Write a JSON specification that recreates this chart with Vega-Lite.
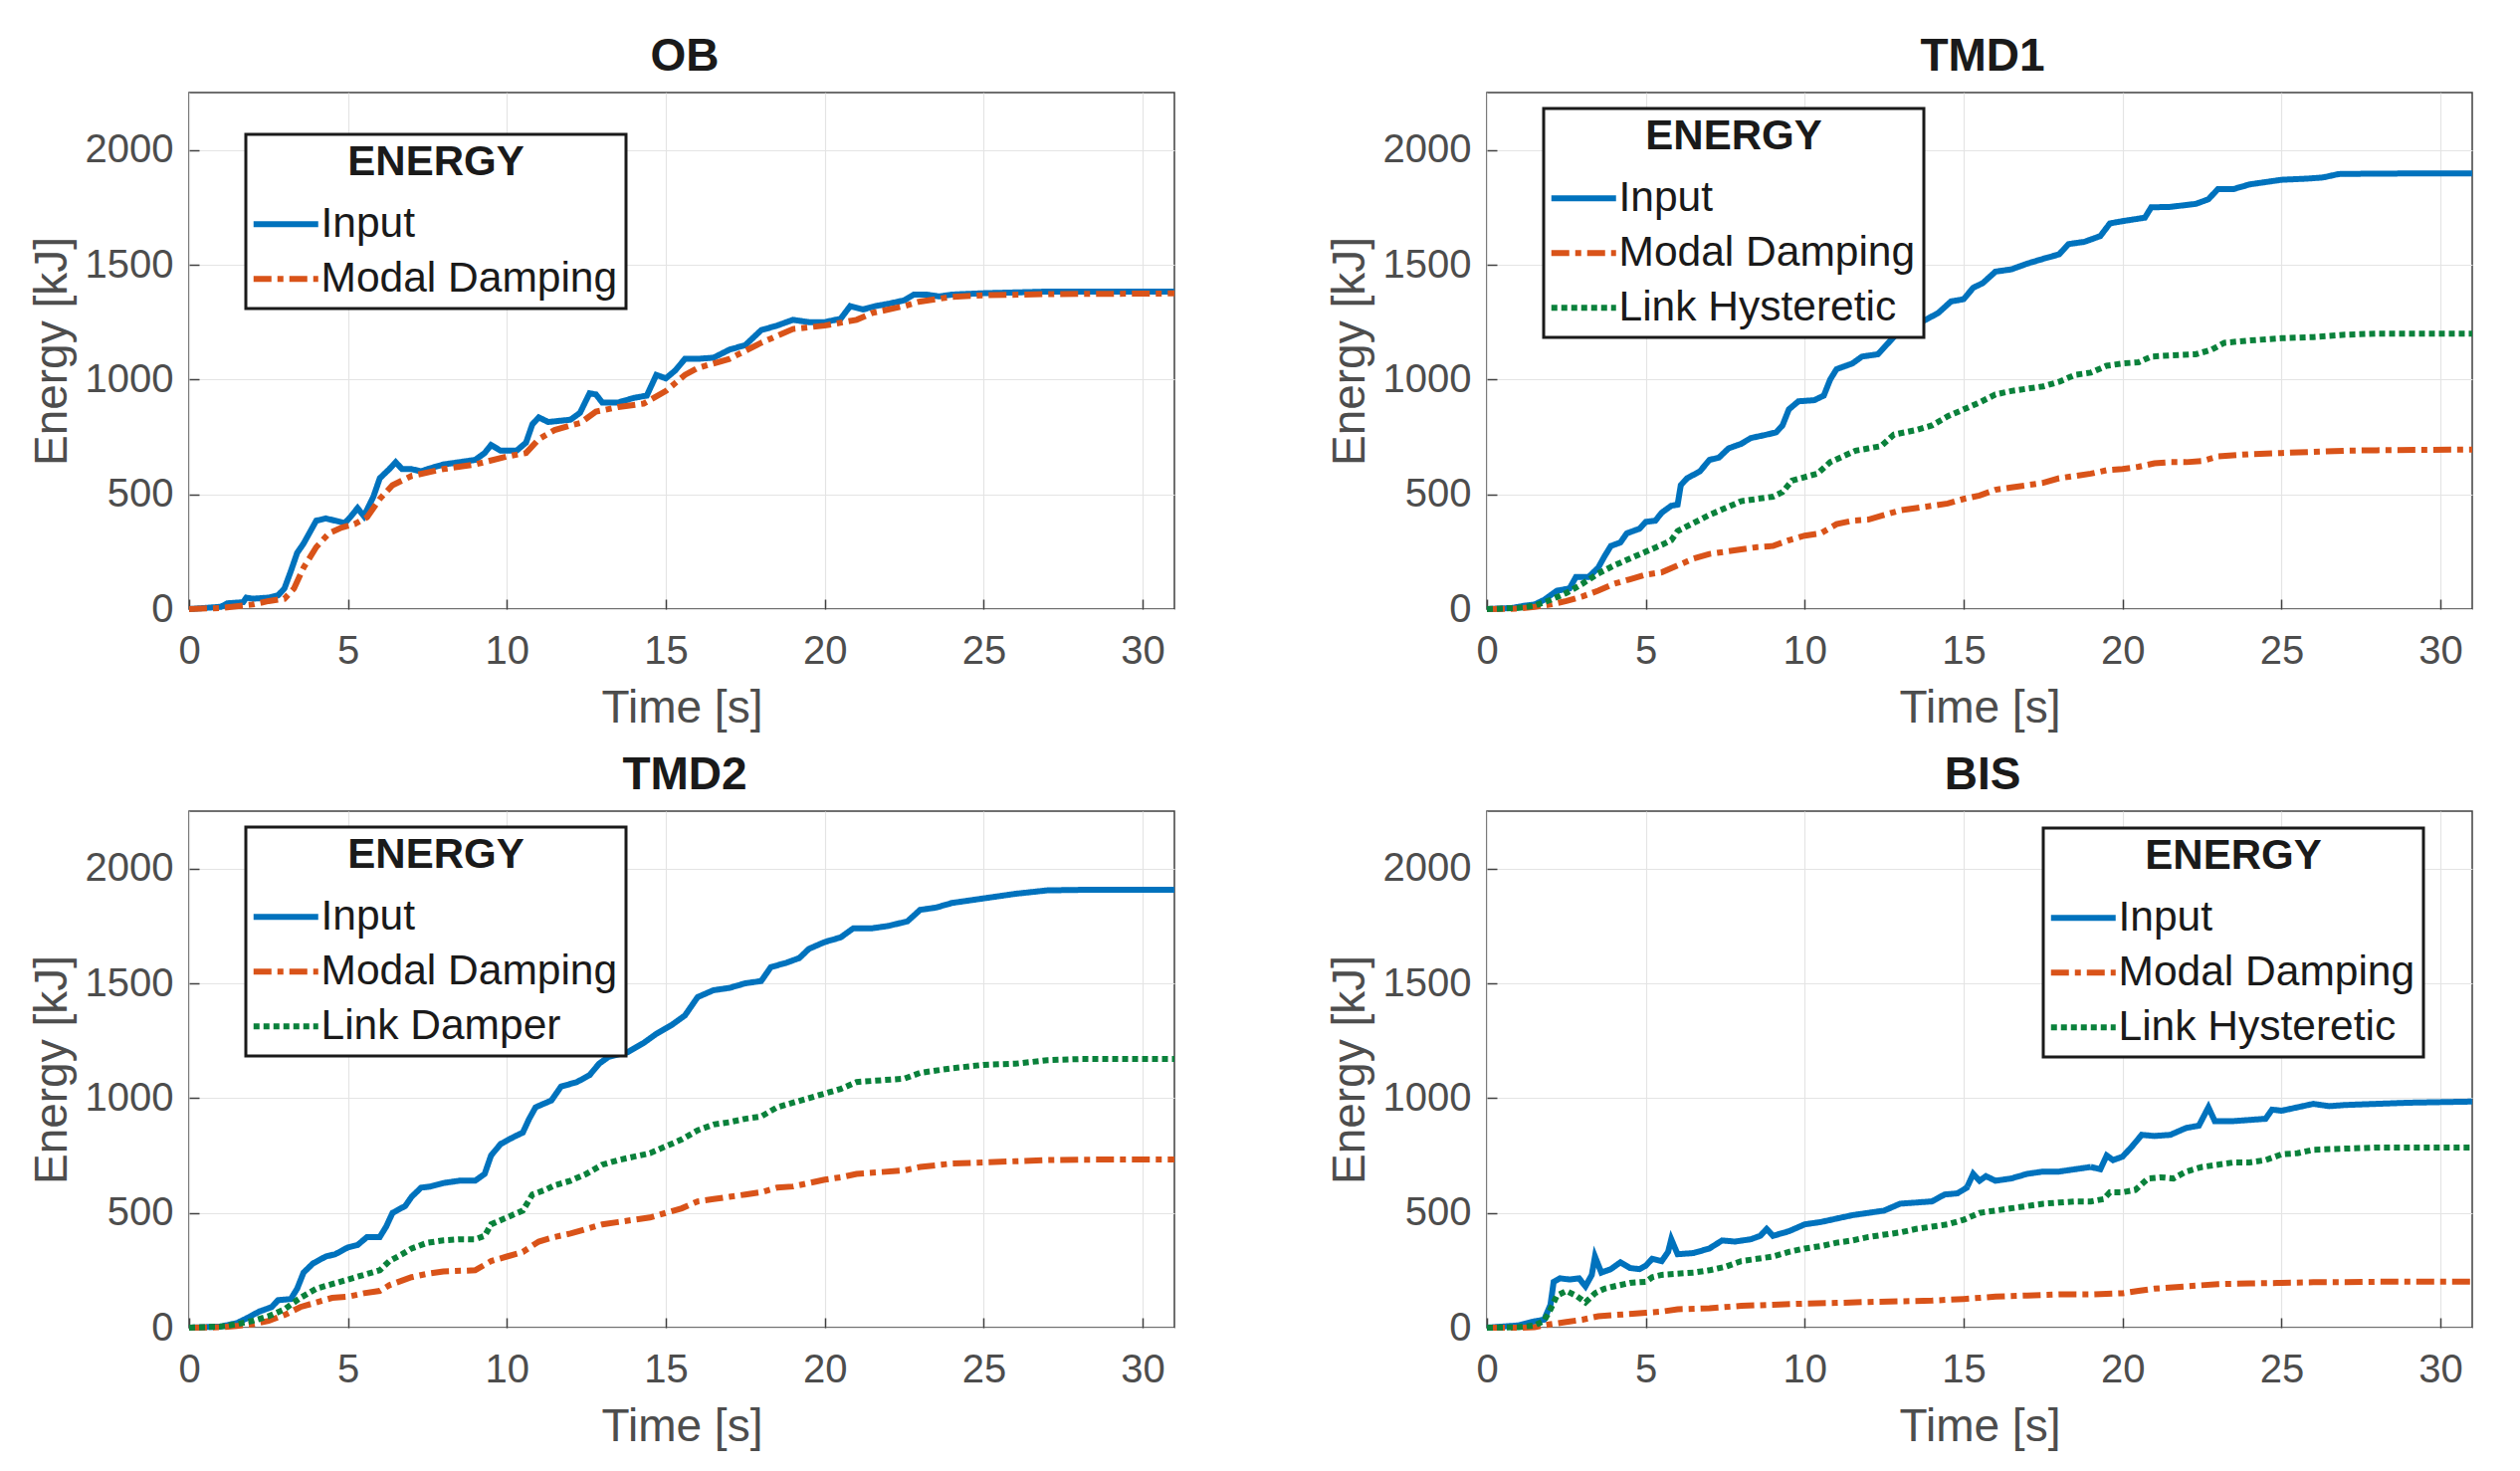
{
"$schema": "https://vega.github.io/schema/vega-lite/v6.json",
"background": "white",
"padding": {"left": 28, "top": 33, "right": 5, "bottom": 5},
"config": {
 "font": "Liberation Sans",
 "view": {"stroke": "#404040", "strokeWidth": 1.5},
 "axis": {"labelFontSize": 40, "labelColor": "#4d4d4d", "titleFontSize": 46, "titleColor": "#4d4d4d", "titleFontWeight": "normal", "gridColor": "#e4e4e4", "gridWidth": 1.2, "domain": false, "tickColor": "#404040", "tickSize": -10, "tickWidth": 1.5, "labelFlush": false, "labelOverlap": false, "format": "d"},
 "axisX": {"labelPadding": 32, "titlePadding": 15},
 "axisY": {"labelPadding": 26, "titlePadding": 9},
 "title": {"fontSize": 46, "fontWeight": "bold", "color": "#1a1a1a", "offset": 12, "baseline": "alphabetic", "frame": "group", "anchor": "middle", "dx": 3},
 "legend": {"strokeColor": "#1a1a1a", "strokeWidth": 3, "padding": 8, "fillColor": "white", "titleAnchor": "middle", "titleFontSize": 42, "titleFontWeight": "bold", "titleColor": "#1a1a1a", "titlePadding": 19, "labelFontSize": 42.5, "labelColor": "#1a1a1a", "labelOffset": 14, "labelLimit": 0, "symbolType": "M-2,0H2", "symbolSize": 1056, "symbolOffset": 11, "symbolStrokeWidth": 6, "rowPadding": 12}
},
"datasets": {
 "ob": [
  {"s":"Input","t":0,"e":0},{"s":"Input","t":1,"e":10},{"s":"Input","t":1.2,"e":25},{"s":"Input","t":1.7,"e":30},{"s":"Input","t":1.8,"e":50},{"s":"Input","t":2.0,"e":45},{"s":"Input","t":2.5,"e":50},{"s":"Input","t":2.8,"e":60},{"s":"Input","t":3.0,"e":90},{"s":"Input","t":3.2,"e":165},{"s":"Input","t":3.4,"e":245},{"s":"Input","t":3.6,"e":285},{"s":"Input","t":3.8,"e":335},{"s":"Input","t":4.0,"e":385},{"s":"Input","t":4.3,"e":395},{"s":"Input","t":4.6,"e":385},{"s":"Input","t":4.9,"e":375},{"s":"Input","t":5.1,"e":405},{"s":"Input","t":5.3,"e":440},{"s":"Input","t":5.5,"e":405},{"s":"Input","t":5.8,"e":490},{"s":"Input","t":6.0,"e":570},{"s":"Input","t":6.3,"e":610},{"s":"Input","t":6.5,"e":640},{"s":"Input","t":6.7,"e":610},{"s":"Input","t":7.0,"e":610},{"s":"Input","t":7.3,"e":600},{"s":"Input","t":7.5,"e":610},{"s":"Input","t":8.0,"e":630},{"s":"Input","t":8.5,"e":640},{"s":"Input","t":9.0,"e":650},{"s":"Input","t":9.3,"e":680},{"s":"Input","t":9.5,"e":715},{"s":"Input","t":9.8,"e":690},{"s":"Input","t":10.3,"e":690},{"s":"Input","t":10.6,"e":725},{"s":"Input","t":10.8,"e":805},{"s":"Input","t":11.0,"e":835},{"s":"Input","t":11.3,"e":815},{"s":"Input","t":12.0,"e":825},{"s":"Input","t":12.3,"e":855},{"s":"Input","t":12.6,"e":940},{"s":"Input","t":12.8,"e":935},{"s":"Input","t":13.0,"e":900},{"s":"Input","t":13.5,"e":900},{"s":"Input","t":14.0,"e":920},{"s":"Input","t":14.4,"e":930},{"s":"Input","t":14.7,"e":1020},{"s":"Input","t":15.0,"e":1005},{"s":"Input","t":15.3,"e":1040},{"s":"Input","t":15.6,"e":1090},{"s":"Input","t":16.0,"e":1090},{"s":"Input","t":16.5,"e":1095},{"s":"Input","t":17.0,"e":1130},{"s":"Input","t":17.5,"e":1150},{"s":"Input","t":18.0,"e":1215},{"s":"Input","t":18.5,"e":1235},{"s":"Input","t":19.0,"e":1260},{"s":"Input","t":19.5,"e":1250},{"s":"Input","t":20.0,"e":1250},{"s":"Input","t":20.5,"e":1265},{"s":"Input","t":20.8,"e":1320},{"s":"Input","t":21.2,"e":1305},{"s":"Input","t":21.6,"e":1320},{"s":"Input","t":22.0,"e":1330},{"s":"Input","t":22.5,"e":1345},{"s":"Input","t":22.8,"e":1370},{"s":"Input","t":23.2,"e":1370},{"s":"Input","t":23.6,"e":1362},{"s":"Input","t":24,"e":1370},{"s":"Input","t":25,"e":1376},{"s":"Input","t":27,"e":1383},{"s":"Input","t":31,"e":1383},
  {"s":"Modal Damping","t":0,"e":0},{"s":"Modal Damping","t":1,"e":5},{"s":"Modal Damping","t":2,"e":20},{"s":"Modal Damping","t":2.5,"e":35},{"s":"Modal Damping","t":3.0,"e":45},{"s":"Modal Damping","t":3.3,"e":90},{"s":"Modal Damping","t":3.6,"e":180},{"s":"Modal Damping","t":4.0,"e":270},{"s":"Modal Damping","t":4.4,"e":330},{"s":"Modal Damping","t":4.8,"e":355},{"s":"Modal Damping","t":5.2,"e":370},{"s":"Modal Damping","t":5.6,"e":400},{"s":"Modal Damping","t":6.0,"e":480},{"s":"Modal Damping","t":6.4,"e":540},{"s":"Modal Damping","t":7,"e":580},{"s":"Modal Damping","t":8,"e":610},{"s":"Modal Damping","t":9,"e":630},{"s":"Modal Damping","t":10,"e":665},{"s":"Modal Damping","t":10.6,"e":680},{"s":"Modal Damping","t":11,"e":740},{"s":"Modal Damping","t":11.5,"e":780},{"s":"Modal Damping","t":12,"e":800},{"s":"Modal Damping","t":12.3,"e":810},{"s":"Modal Damping","t":12.8,"e":860},{"s":"Modal Damping","t":13.5,"e":880},{"s":"Modal Damping","t":14.3,"e":895},{"s":"Modal Damping","t":15,"e":950},{"s":"Modal Damping","t":15.6,"e":1020},{"s":"Modal Damping","t":16,"e":1050},{"s":"Modal Damping","t":17,"e":1090},{"s":"Modal Damping","t":18,"e":1160},{"s":"Modal Damping","t":19,"e":1220},{"s":"Modal Damping","t":20,"e":1235},{"s":"Modal Damping","t":21,"e":1260},{"s":"Modal Damping","t":21.5,"e":1290},{"s":"Modal Damping","t":22.5,"e":1320},{"s":"Modal Damping","t":23,"e":1340},{"s":"Modal Damping","t":24,"e":1360},{"s":"Modal Damping","t":25,"e":1367},{"s":"Modal Damping","t":27,"e":1372},{"s":"Modal Damping","t":31,"e":1375}
 ],
 "tmd1": [
  {"s":"Input","t":0,"e":0},{"s":"Input","t":0.8,"e":5},{"s":"Input","t":1.2,"e":15},{"s":"Input","t":1.5,"e":20},{"s":"Input","t":1.8,"e":40},{"s":"Input","t":2.0,"e":60},{"s":"Input","t":2.2,"e":80},{"s":"Input","t":2.6,"e":90},{"s":"Input","t":2.8,"e":140},{"s":"Input","t":3.2,"e":140},{"s":"Input","t":3.5,"e":180},{"s":"Input","t":3.7,"e":230},{"s":"Input","t":3.9,"e":275},{"s":"Input","t":4.2,"e":290},{"s":"Input","t":4.4,"e":330},{"s":"Input","t":4.8,"e":350},{"s":"Input","t":5.0,"e":380},{"s":"Input","t":5.3,"e":385},{"s":"Input","t":5.5,"e":420},{"s":"Input","t":5.8,"e":450},{"s":"Input","t":6.0,"e":455},{"s":"Input","t":6.1,"e":540},{"s":"Input","t":6.3,"e":570},{"s":"Input","t":6.7,"e":600},{"s":"Input","t":7.0,"e":650},{"s":"Input","t":7.3,"e":660},{"s":"Input","t":7.6,"e":700},{"s":"Input","t":8.0,"e":720},{"s":"Input","t":8.3,"e":745},{"s":"Input","t":8.8,"e":760},{"s":"Input","t":9.1,"e":770},{"s":"Input","t":9.3,"e":800},{"s":"Input","t":9.5,"e":870},{"s":"Input","t":9.8,"e":905},{"s":"Input","t":10.3,"e":910},{"s":"Input","t":10.6,"e":930},{"s":"Input","t":10.8,"e":1000},{"s":"Input","t":11.0,"e":1045},{"s":"Input","t":11.5,"e":1070},{"s":"Input","t":11.8,"e":1100},{"s":"Input","t":12.3,"e":1110},{"s":"Input","t":12.5,"e":1140},{"s":"Input","t":12.9,"e":1200},{"s":"Input","t":13.3,"e":1230},{"s":"Input","t":13.8,"e":1260},{"s":"Input","t":14.2,"e":1290},{"s":"Input","t":14.6,"e":1340},{"s":"Input","t":15.0,"e":1350},{"s":"Input","t":15.3,"e":1400},{"s":"Input","t":15.6,"e":1420},{"s":"Input","t":16.0,"e":1470},{"s":"Input","t":16.5,"e":1480},{"s":"Input","t":17.0,"e":1505},{"s":"Input","t":17.6,"e":1530},{"s":"Input","t":18.0,"e":1545},{"s":"Input","t":18.3,"e":1590},{"s":"Input","t":18.8,"e":1600},{"s":"Input","t":19.3,"e":1625},{"s":"Input","t":19.6,"e":1680},{"s":"Input","t":20.0,"e":1690},{"s":"Input","t":20.7,"e":1705},{"s":"Input","t":20.9,"e":1750},{"s":"Input","t":21.5,"e":1752},{"s":"Input","t":22.3,"e":1765},{"s":"Input","t":22.7,"e":1785},{"s":"Input","t":23.0,"e":1830},{"s":"Input","t":23.5,"e":1830},{"s":"Input","t":24.0,"e":1850},{"s":"Input","t":24.5,"e":1860},{"s":"Input","t":25.0,"e":1870},{"s":"Input","t":25.8,"e":1875},{"s":"Input","t":26.3,"e":1880},{"s":"Input","t":26.8,"e":1895},{"s":"Input","t":28,"e":1897},{"s":"Input","t":31,"e":1898},
  {"s":"Modal Damping","t":0,"e":0},{"s":"Modal Damping","t":1,"e":2},{"s":"Modal Damping","t":1.5,"e":10},{"s":"Modal Damping","t":2.0,"e":20},{"s":"Modal Damping","t":2.5,"e":35},{"s":"Modal Damping","t":3.0,"e":55},{"s":"Modal Damping","t":3.5,"e":80},{"s":"Modal Damping","t":4.0,"e":110},{"s":"Modal Damping","t":4.5,"e":130},{"s":"Modal Damping","t":5.0,"e":150},{"s":"Modal Damping","t":5.5,"e":160},{"s":"Modal Damping","t":6.0,"e":190},{"s":"Modal Damping","t":6.5,"e":220},{"s":"Modal Damping","t":7.0,"e":240},{"s":"Modal Damping","t":7.5,"e":250},{"s":"Modal Damping","t":8.0,"e":260},{"s":"Modal Damping","t":8.5,"e":270},{"s":"Modal Damping","t":9.0,"e":275},{"s":"Modal Damping","t":9.5,"e":300},{"s":"Modal Damping","t":10.0,"e":320},{"s":"Modal Damping","t":10.5,"e":330},{"s":"Modal Damping","t":11.0,"e":370},{"s":"Modal Damping","t":11.5,"e":385},{"s":"Modal Damping","t":12.0,"e":390},{"s":"Modal Damping","t":12.5,"e":410},{"s":"Modal Damping","t":13.0,"e":430},{"s":"Modal Damping","t":13.5,"e":440},{"s":"Modal Damping","t":14.0,"e":450},{"s":"Modal Damping","t":14.5,"e":460},{"s":"Modal Damping","t":15.0,"e":480},{"s":"Modal Damping","t":15.5,"e":495},{"s":"Modal Damping","t":16.0,"e":520},{"s":"Modal Damping","t":16.5,"e":530},{"s":"Modal Damping","t":17.0,"e":540},{"s":"Modal Damping","t":17.5,"e":550},{"s":"Modal Damping","t":18.0,"e":570},{"s":"Modal Damping","t":18.5,"e":580},{"s":"Modal Damping","t":19.0,"e":590},{"s":"Modal Damping","t":19.5,"e":605},{"s":"Modal Damping","t":20.0,"e":610},{"s":"Modal Damping","t":20.5,"e":620},{"s":"Modal Damping","t":21.0,"e":635},{"s":"Modal Damping","t":21.5,"e":640},{"s":"Modal Damping","t":22.0,"e":640},{"s":"Modal Damping","t":22.5,"e":645},{"s":"Modal Damping","t":23.0,"e":665},{"s":"Modal Damping","t":24.0,"e":675},{"s":"Modal Damping","t":25.0,"e":680},{"s":"Modal Damping","t":26.0,"e":685},{"s":"Modal Damping","t":27,"e":690},{"s":"Modal Damping","t":28,"e":692},{"s":"Modal Damping","t":31,"e":695},
  {"s":"Link Hysteretic","t":0,"e":0},{"s":"Link Hysteretic","t":1.0,"e":5},{"s":"Link Hysteretic","t":1.5,"e":15},{"s":"Link Hysteretic","t":2.0,"e":40},{"s":"Link Hysteretic","t":2.5,"e":70},{"s":"Link Hysteretic","t":3.0,"e":110},{"s":"Link Hysteretic","t":3.5,"e":155},{"s":"Link Hysteretic","t":4.0,"e":190},{"s":"Link Hysteretic","t":4.5,"e":220},{"s":"Link Hysteretic","t":5.0,"e":250},{"s":"Link Hysteretic","t":5.5,"e":280},{"s":"Link Hysteretic","t":5.8,"e":300},{"s":"Link Hysteretic","t":6.0,"e":340},{"s":"Link Hysteretic","t":6.5,"e":375},{"s":"Link Hysteretic","t":7.0,"e":410},{"s":"Link Hysteretic","t":7.5,"e":440},{"s":"Link Hysteretic","t":8.0,"e":470},{"s":"Link Hysteretic","t":8.5,"e":480},{"s":"Link Hysteretic","t":9.0,"e":490},{"s":"Link Hysteretic","t":9.3,"e":510},{"s":"Link Hysteretic","t":9.6,"e":560},{"s":"Link Hysteretic","t":10.0,"e":575},{"s":"Link Hysteretic","t":10.4,"e":590},{"s":"Link Hysteretic","t":10.8,"e":640},{"s":"Link Hysteretic","t":11.2,"e":665},{"s":"Link Hysteretic","t":11.6,"e":690},{"s":"Link Hysteretic","t":12.0,"e":700},{"s":"Link Hysteretic","t":12.4,"e":710},{"s":"Link Hysteretic","t":12.8,"e":760},{"s":"Link Hysteretic","t":13.5,"e":780},{"s":"Link Hysteretic","t":14.0,"e":800},{"s":"Link Hysteretic","t":14.5,"e":840},{"s":"Link Hysteretic","t":15.0,"e":870},{"s":"Link Hysteretic","t":15.5,"e":900},{"s":"Link Hysteretic","t":16.0,"e":935},{"s":"Link Hysteretic","t":16.5,"e":950},{"s":"Link Hysteretic","t":17.0,"e":960},{"s":"Link Hysteretic","t":17.5,"e":970},{"s":"Link Hysteretic","t":18.0,"e":990},{"s":"Link Hysteretic","t":18.5,"e":1020},{"s":"Link Hysteretic","t":19.0,"e":1030},{"s":"Link Hysteretic","t":19.5,"e":1060},{"s":"Link Hysteretic","t":20.0,"e":1070},{"s":"Link Hysteretic","t":20.5,"e":1075},{"s":"Link Hysteretic","t":20.9,"e":1100},{"s":"Link Hysteretic","t":21.5,"e":1105},{"s":"Link Hysteretic","t":22.3,"e":1110},{"s":"Link Hysteretic","t":22.8,"e":1130},{"s":"Link Hysteretic","t":23.2,"e":1160},{"s":"Link Hysteretic","t":24.0,"e":1170},{"s":"Link Hysteretic","t":25.0,"e":1180},{"s":"Link Hysteretic","t":26.0,"e":1185},{"s":"Link Hysteretic","t":27.0,"e":1195},{"s":"Link Hysteretic","t":28,"e":1200},{"s":"Link Hysteretic","t":31,"e":1200}
 ],
 "tmd2": [
  {"s":"Input","t":0,"e":0},{"s":"Input","t":1.0,"e":5},{"s":"Input","t":1.5,"e":20},{"s":"Input","t":1.8,"e":40},{"s":"Input","t":2.2,"e":70},{"s":"Input","t":2.6,"e":90},{"s":"Input","t":2.8,"e":120},{"s":"Input","t":3.2,"e":125},{"s":"Input","t":3.4,"e":170},{"s":"Input","t":3.6,"e":240},{"s":"Input","t":3.9,"e":280},{"s":"Input","t":4.3,"e":310},{"s":"Input","t":4.6,"e":320},{"s":"Input","t":5.0,"e":350},{"s":"Input","t":5.3,"e":360},{"s":"Input","t":5.6,"e":395},{"s":"Input","t":6.0,"e":395},{"s":"Input","t":6.2,"e":440},{"s":"Input","t":6.4,"e":500},{"s":"Input","t":6.8,"e":530},{"s":"Input","t":7.0,"e":570},{"s":"Input","t":7.3,"e":610},{"s":"Input","t":7.6,"e":615},{"s":"Input","t":8.0,"e":630},{"s":"Input","t":8.5,"e":640},{"s":"Input","t":9.0,"e":640},{"s":"Input","t":9.3,"e":670},{"s":"Input","t":9.5,"e":750},{"s":"Input","t":9.8,"e":800},{"s":"Input","t":10.2,"e":830},{"s":"Input","t":10.5,"e":850},{"s":"Input","t":10.7,"e":910},{"s":"Input","t":10.9,"e":960},{"s":"Input","t":11.4,"e":990},{"s":"Input","t":11.7,"e":1050},{"s":"Input","t":12.2,"e":1070},{"s":"Input","t":12.6,"e":1100},{"s":"Input","t":12.9,"e":1150},{"s":"Input","t":13.2,"e":1180},{"s":"Input","t":13.8,"e":1200},{"s":"Input","t":14.3,"e":1240},{"s":"Input","t":14.7,"e":1280},{"s":"Input","t":15.2,"e":1320},{"s":"Input","t":15.6,"e":1360},{"s":"Input","t":16.0,"e":1440},{"s":"Input","t":16.5,"e":1470},{"s":"Input","t":17.0,"e":1480},{"s":"Input","t":17.5,"e":1500},{"s":"Input","t":18.0,"e":1510},{"s":"Input","t":18.3,"e":1570},{"s":"Input","t":18.8,"e":1590},{"s":"Input","t":19.2,"e":1610},{"s":"Input","t":19.5,"e":1650},{"s":"Input","t":20.0,"e":1680},{"s":"Input","t":20.5,"e":1700},{"s":"Input","t":20.9,"e":1740},{"s":"Input","t":21.5,"e":1740},{"s":"Input","t":22.0,"e":1750},{"s":"Input","t":22.6,"e":1770},{"s":"Input","t":23.0,"e":1820},{"s":"Input","t":23.5,"e":1830},{"s":"Input","t":24.0,"e":1850},{"s":"Input","t":25.0,"e":1870},{"s":"Input","t":26.0,"e":1890},{"s":"Input","t":27.0,"e":1905},{"s":"Input","t":28.0,"e":1907},{"s":"Input","t":31.0,"e":1908},
  {"s":"Modal Damping","t":0,"e":0},{"s":"Modal Damping","t":1.0,"e":2},{"s":"Modal Damping","t":1.5,"e":8},{"s":"Modal Damping","t":2.0,"e":15},{"s":"Modal Damping","t":2.5,"e":30},{"s":"Modal Damping","t":3.0,"e":55},{"s":"Modal Damping","t":3.5,"e":90},{"s":"Modal Damping","t":4.0,"e":110},{"s":"Modal Damping","t":4.5,"e":130},{"s":"Modal Damping","t":5.0,"e":135},{"s":"Modal Damping","t":5.5,"e":150},{"s":"Modal Damping","t":6.0,"e":160},{"s":"Modal Damping","t":6.3,"e":185},{"s":"Modal Damping","t":7.0,"e":220},{"s":"Modal Damping","t":7.5,"e":235},{"s":"Modal Damping","t":8.0,"e":245},{"s":"Modal Damping","t":9.0,"e":250},{"s":"Modal Damping","t":9.5,"e":290},{"s":"Modal Damping","t":10.0,"e":310},{"s":"Modal Damping","t":10.5,"e":330},{"s":"Modal Damping","t":11.0,"e":375},{"s":"Modal Damping","t":11.5,"e":395},{"s":"Modal Damping","t":12.0,"e":410},{"s":"Modal Damping","t":12.5,"e":430},{"s":"Modal Damping","t":13.0,"e":450},{"s":"Modal Damping","t":13.5,"e":460},{"s":"Modal Damping","t":14.0,"e":470},{"s":"Modal Damping","t":14.5,"e":480},{"s":"Modal Damping","t":15.0,"e":500},{"s":"Modal Damping","t":15.5,"e":520},{"s":"Modal Damping","t":16.0,"e":550},{"s":"Modal Damping","t":16.5,"e":560},{"s":"Modal Damping","t":17.0,"e":570},{"s":"Modal Damping","t":17.5,"e":580},{"s":"Modal Damping","t":18.0,"e":590},{"s":"Modal Damping","t":18.5,"e":610},{"s":"Modal Damping","t":19.0,"e":615},{"s":"Modal Damping","t":19.5,"e":630},{"s":"Modal Damping","t":20.0,"e":645},{"s":"Modal Damping","t":20.5,"e":655},{"s":"Modal Damping","t":21.0,"e":670},{"s":"Modal Damping","t":21.5,"e":675},{"s":"Modal Damping","t":22.5,"e":685},{"s":"Modal Damping","t":23.0,"e":700},{"s":"Modal Damping","t":24.0,"e":715},{"s":"Modal Damping","t":25.0,"e":720},{"s":"Modal Damping","t":26.0,"e":725},{"s":"Modal Damping","t":27,"e":730},{"s":"Modal Damping","t":28,"e":732},{"s":"Modal Damping","t":31,"e":733},
  {"s":"Link Damper","t":0,"e":0},{"s":"Link Damper","t":1.0,"e":5},{"s":"Link Damper","t":1.5,"e":15},{"s":"Link Damper","t":2.0,"e":30},{"s":"Link Damper","t":2.5,"e":50},{"s":"Link Damper","t":3.0,"e":80},{"s":"Link Damper","t":3.5,"e":130},{"s":"Link Damper","t":4.0,"e":170},{"s":"Link Damper","t":4.5,"e":190},{"s":"Link Damper","t":5.0,"e":210},{"s":"Link Damper","t":5.5,"e":230},{"s":"Link Damper","t":6.0,"e":250},{"s":"Link Damper","t":6.3,"e":290},{"s":"Link Damper","t":6.7,"e":320},{"s":"Link Damper","t":7.0,"e":345},{"s":"Link Damper","t":7.5,"e":370},{"s":"Link Damper","t":8.0,"e":380},{"s":"Link Damper","t":8.5,"e":385},{"s":"Link Damper","t":9.0,"e":385},{"s":"Link Damper","t":9.3,"e":400},{"s":"Link Damper","t":9.5,"e":450},{"s":"Link Damper","t":10.0,"e":480},{"s":"Link Damper","t":10.5,"e":510},{"s":"Link Damper","t":10.8,"e":580},{"s":"Link Damper","t":11.2,"e":600},{"s":"Link Damper","t":11.5,"e":620},{"s":"Link Damper","t":12.0,"e":640},{"s":"Link Damper","t":12.5,"e":670},{"s":"Link Damper","t":13.0,"e":710},{"s":"Link Damper","t":13.5,"e":730},{"s":"Link Damper","t":14.0,"e":745},{"s":"Link Damper","t":14.5,"e":760},{"s":"Link Damper","t":15.0,"e":790},{"s":"Link Damper","t":15.5,"e":820},{"s":"Link Damper","t":16.0,"e":860},{"s":"Link Damper","t":16.5,"e":885},{"s":"Link Damper","t":17.0,"e":895},{"s":"Link Damper","t":17.5,"e":910},{"s":"Link Damper","t":18.0,"e":920},{"s":"Link Damper","t":18.5,"e":960},{"s":"Link Damper","t":19.0,"e":980},{"s":"Link Damper","t":19.5,"e":1000},{"s":"Link Damper","t":20.0,"e":1020},{"s":"Link Damper","t":20.5,"e":1040},{"s":"Link Damper","t":21.0,"e":1070},{"s":"Link Damper","t":21.5,"e":1075},{"s":"Link Damper","t":22.5,"e":1085},{"s":"Link Damper","t":23.0,"e":1110},{"s":"Link Damper","t":24.0,"e":1130},{"s":"Link Damper","t":25.0,"e":1145},{"s":"Link Damper","t":26.0,"e":1150},{"s":"Link Damper","t":27.0,"e":1165},{"s":"Link Damper","t":28.0,"e":1170},{"s":"Link Damper","t":31.0,"e":1170}
 ],
 "bis": [
  {"s":"Input","t":0,"e":0},{"s":"Input","t":1.0,"e":10},{"s":"Input","t":1.4,"e":25},{"s":"Input","t":1.8,"e":35},{"s":"Input","t":2.0,"e":100},{"s":"Input","t":2.1,"e":200},{"s":"Input","t":2.3,"e":215},{"s":"Input","t":2.6,"e":210},{"s":"Input","t":2.9,"e":215},{"s":"Input","t":3.1,"e":180},{"s":"Input","t":3.3,"e":230},{"s":"Input","t":3.4,"e":310},{"s":"Input","t":3.6,"e":240},{"s":"Input","t":3.9,"e":255},{"s":"Input","t":4.2,"e":285},{"s":"Input","t":4.5,"e":260},{"s":"Input","t":4.8,"e":255},{"s":"Input","t":5.0,"e":270},{"s":"Input","t":5.2,"e":300},{"s":"Input","t":5.5,"e":290},{"s":"Input","t":5.7,"e":330},{"s":"Input","t":5.8,"e":385},{"s":"Input","t":6.0,"e":320},{"s":"Input","t":6.5,"e":325},{"s":"Input","t":7.0,"e":345},{"s":"Input","t":7.4,"e":380},{"s":"Input","t":7.8,"e":375},{"s":"Input","t":8.3,"e":385},{"s":"Input","t":8.6,"e":400},{"s":"Input","t":8.8,"e":430},{"s":"Input","t":9.0,"e":400},{"s":"Input","t":9.5,"e":420},{"s":"Input","t":10.0,"e":450},{"s":"Input","t":10.5,"e":460},{"s":"Input","t":11.0,"e":475},{"s":"Input","t":11.5,"e":490},{"s":"Input","t":12.0,"e":500},{"s":"Input","t":12.5,"e":510},{"s":"Input","t":13.0,"e":540},{"s":"Input","t":13.5,"e":545},{"s":"Input","t":14.0,"e":550},{"s":"Input","t":14.4,"e":580},{"s":"Input","t":14.8,"e":585},{"s":"Input","t":15.1,"e":610},{"s":"Input","t":15.3,"e":670},{"s":"Input","t":15.5,"e":640},{"s":"Input","t":15.7,"e":660},{"s":"Input","t":16.0,"e":640},{"s":"Input","t":16.5,"e":650},{"s":"Input","t":17.0,"e":670},{"s":"Input","t":17.5,"e":680},{"s":"Input","t":18.0,"e":680},{"s":"Input","t":18.5,"e":690},{"s":"Input","t":19.0,"e":700},{"s":"Input","t":19.3,"e":690},{"s":"Input","t":19.5,"e":750},{"s":"Input","t":19.7,"e":730},{"s":"Input","t":20.0,"e":745},{"s":"Input","t":20.3,"e":790},{"s":"Input","t":20.6,"e":840},{"s":"Input","t":21.0,"e":835},{"s":"Input","t":21.5,"e":840},{"s":"Input","t":22.0,"e":870},{"s":"Input","t":22.4,"e":880},{"s":"Input","t":22.7,"e":960},{"s":"Input","t":22.9,"e":900},{"s":"Input","t":23.5,"e":900},{"s":"Input","t":24.0,"e":905},{"s":"Input","t":24.5,"e":910},{"s":"Input","t":24.7,"e":950},{"s":"Input","t":25.0,"e":945},{"s":"Input","t":25.5,"e":960},{"s":"Input","t":26.0,"e":975},{"s":"Input","t":26.5,"e":965},{"s":"Input","t":27.0,"e":970},{"s":"Input","t":28.0,"e":975},{"s":"Input","t":29.0,"e":980},{"s":"Input","t":31.0,"e":985},
  {"s":"Modal Damping","t":0,"e":0},{"s":"Modal Damping","t":1.0,"e":0},{"s":"Modal Damping","t":1.5,"e":2},{"s":"Modal Damping","t":2.0,"e":15},{"s":"Modal Damping","t":2.5,"e":25},{"s":"Modal Damping","t":3.0,"e":35},{"s":"Modal Damping","t":3.5,"e":50},{"s":"Modal Damping","t":4.0,"e":55},{"s":"Modal Damping","t":5.0,"e":65},{"s":"Modal Damping","t":5.5,"e":70},{"s":"Modal Damping","t":6.0,"e":80},{"s":"Modal Damping","t":7.0,"e":85},{"s":"Modal Damping","t":8.0,"e":95},{"s":"Modal Damping","t":9.0,"e":100},{"s":"Modal Damping","t":10.0,"e":105},{"s":"Modal Damping","t":11.0,"e":108},{"s":"Modal Damping","t":12.0,"e":112},{"s":"Modal Damping","t":13.0,"e":115},{"s":"Modal Damping","t":14.0,"e":118},{"s":"Modal Damping","t":15.0,"e":125},{"s":"Modal Damping","t":15.5,"e":130},{"s":"Modal Damping","t":16.0,"e":135},{"s":"Modal Damping","t":17.0,"e":140},{"s":"Modal Damping","t":18.0,"e":145},{"s":"Modal Damping","t":19.0,"e":145},{"s":"Modal Damping","t":20.0,"e":150},{"s":"Modal Damping","t":20.5,"e":160},{"s":"Modal Damping","t":21.0,"e":170},{"s":"Modal Damping","t":22.0,"e":180},{"s":"Modal Damping","t":23.0,"e":190},{"s":"Modal Damping","t":24.0,"e":193},{"s":"Modal Damping","t":25.0,"e":195},{"s":"Modal Damping","t":26.0,"e":198},{"s":"Modal Damping","t":27.0,"e":198},{"s":"Modal Damping","t":28.0,"e":200},{"s":"Modal Damping","t":31.0,"e":200},
  {"s":"Link Hysteretic","t":0,"e":0},{"s":"Link Hysteretic","t":1.0,"e":2},{"s":"Link Hysteretic","t":1.5,"e":10},{"s":"Link Hysteretic","t":1.8,"e":30},{"s":"Link Hysteretic","t":2.0,"e":80},{"s":"Link Hysteretic","t":2.2,"e":140},{"s":"Link Hysteretic","t":2.5,"e":160},{"s":"Link Hysteretic","t":2.8,"e":140},{"s":"Link Hysteretic","t":3.1,"e":110},{"s":"Link Hysteretic","t":3.4,"e":150},{"s":"Link Hysteretic","t":3.7,"e":170},{"s":"Link Hysteretic","t":4.0,"e":180},{"s":"Link Hysteretic","t":4.5,"e":195},{"s":"Link Hysteretic","t":5.0,"e":200},{"s":"Link Hysteretic","t":5.2,"e":220},{"s":"Link Hysteretic","t":5.5,"e":230},{"s":"Link Hysteretic","t":6.0,"e":235},{"s":"Link Hysteretic","t":6.5,"e":240},{"s":"Link Hysteretic","t":7.0,"e":250},{"s":"Link Hysteretic","t":7.5,"e":265},{"s":"Link Hysteretic","t":8.0,"e":290},{"s":"Link Hysteretic","t":8.5,"e":300},{"s":"Link Hysteretic","t":9.0,"e":310},{"s":"Link Hysteretic","t":9.5,"e":330},{"s":"Link Hysteretic","t":10.0,"e":345},{"s":"Link Hysteretic","t":10.5,"e":355},{"s":"Link Hysteretic","t":11.0,"e":370},{"s":"Link Hysteretic","t":11.5,"e":380},{"s":"Link Hysteretic","t":12.0,"e":395},{"s":"Link Hysteretic","t":12.5,"e":405},{"s":"Link Hysteretic","t":13.0,"e":415},{"s":"Link Hysteretic","t":13.5,"e":430},{"s":"Link Hysteretic","t":14.0,"e":440},{"s":"Link Hysteretic","t":14.5,"e":450},{"s":"Link Hysteretic","t":15.0,"e":470},{"s":"Link Hysteretic","t":15.5,"e":500},{"s":"Link Hysteretic","t":16.0,"e":510},{"s":"Link Hysteretic","t":16.5,"e":520},{"s":"Link Hysteretic","t":17.0,"e":530},{"s":"Link Hysteretic","t":17.5,"e":540},{"s":"Link Hysteretic","t":18.0,"e":545},{"s":"Link Hysteretic","t":18.5,"e":550},{"s":"Link Hysteretic","t":19.0,"e":550},{"s":"Link Hysteretic","t":19.4,"e":560},{"s":"Link Hysteretic","t":19.6,"e":590},{"s":"Link Hysteretic","t":20.0,"e":590},{"s":"Link Hysteretic","t":20.4,"e":600},{"s":"Link Hysteretic","t":20.8,"e":650},{"s":"Link Hysteretic","t":21.2,"e":655},{"s":"Link Hysteretic","t":21.6,"e":650},{"s":"Link Hysteretic","t":22.0,"e":680},{"s":"Link Hysteretic","t":22.5,"e":700},{"s":"Link Hysteretic","t":23.0,"e":710},{"s":"Link Hysteretic","t":23.5,"e":720},{"s":"Link Hysteretic","t":24.0,"e":720},{"s":"Link Hysteretic","t":24.5,"e":730},{"s":"Link Hysteretic","t":25.0,"e":755},{"s":"Link Hysteretic","t":25.5,"e":760},{"s":"Link Hysteretic","t":26.0,"e":775},{"s":"Link Hysteretic","t":27.0,"e":780},{"s":"Link Hysteretic","t":28.0,"e":785},{"s":"Link Hysteretic","t":31.0,"e":785}
 ]
},
"columns": 2,
"spacing": {"row": 203, "column": 314},
"bounds": "flush",
"resolve": {"scale": {"color": "independent", "strokeDash": "independent"}, "legend": {"color": "independent", "strokeDash": "independent"}},
"concat": [
 {
  "title": "OB", "width": 990, "height": 519, "data": {"name": "ob"},
  "mark": {"type": "line", "strokeWidth": 6, "strokeCap": "butt"},
  "encoding": {
   "x": {"field": "t", "type": "quantitative", "scale": {"domain": [0, 31], "nice": false}, "axis": {"values": [0,5,10,15,20,25,30], "title": "Time [s]"}},
   "y": {"field": "e", "type": "quantitative", "scale": {"domain": [0, 2250], "nice": false}, "axis": {"values": [0,500,1000,1500,2000], "title": "Energy [kJ]"}},
   "color": {"field": "s", "type": "nominal", "title": "ENERGY", "scale": {"domain": ["Input","Modal Damping"], "range": ["#0072BD","#D95319"]}, "legend": {"orient": "none", "legendX": 57, "legendY": 42}},
   "strokeDash": {"field": "s", "type": "nominal", "title": "ENERGY", "scale": {"domain": ["Input","Modal Damping"], "range": [[1,0],[18,6,6,6]]}, "legend": {"orient": "none", "legendX": 57, "legendY": 42}}
  }
 },
 {
  "title": "TMD1", "width": 990, "height": 519, "data": {"name": "tmd1"},
  "mark": {"type": "line", "strokeWidth": 6, "strokeCap": "butt"},
  "encoding": {
   "x": {"field": "t", "type": "quantitative", "scale": {"domain": [0, 31], "nice": false}, "axis": {"values": [0,5,10,15,20,25,30], "title": "Time [s]"}},
   "y": {"field": "e", "type": "quantitative", "scale": {"domain": [0, 2250], "nice": false}, "axis": {"values": [0,500,1000,1500,2000], "title": "Energy [kJ]"}},
   "color": {"field": "s", "type": "nominal", "title": "ENERGY", "scale": {"domain": ["Input","Modal Damping","Link Hysteretic"], "range": ["#0072BD","#D95319","#0A813B"]}, "legend": {"orient": "none", "legendX": 57, "legendY": 16}},
   "strokeDash": {"field": "s", "type": "nominal", "title": "ENERGY", "scale": {"domain": ["Input","Modal Damping","Link Hysteretic"], "range": [[1,0],[18,6,6,6],[6,4]]}, "legend": {"orient": "none", "legendX": 57, "legendY": 16}}
  }
 },
 {
  "title": "TMD2", "width": 990, "height": 519, "data": {"name": "tmd2"},
  "mark": {"type": "line", "strokeWidth": 6, "strokeCap": "butt"},
  "encoding": {
   "x": {"field": "t", "type": "quantitative", "scale": {"domain": [0, 31], "nice": false}, "axis": {"values": [0,5,10,15,20,25,30], "title": "Time [s]"}},
   "y": {"field": "e", "type": "quantitative", "scale": {"domain": [0, 2250], "nice": false}, "axis": {"values": [0,500,1000,1500,2000], "title": "Energy [kJ]"}},
   "color": {"field": "s", "type": "nominal", "title": "ENERGY", "scale": {"domain": ["Input","Modal Damping","Link Damper"], "range": ["#0072BD","#D95319","#0A813B"]}, "legend": {"orient": "none", "legendX": 57, "legendY": 16}},
   "strokeDash": {"field": "s", "type": "nominal", "title": "ENERGY", "scale": {"domain": ["Input","Modal Damping","Link Damper"], "range": [[1,0],[18,6,6,6],[6,4]]}, "legend": {"orient": "none", "legendX": 57, "legendY": 16}}
  }
 },
 {
  "title": "BIS", "width": 990, "height": 519, "data": {"name": "bis"},
  "mark": {"type": "line", "strokeWidth": 6, "strokeCap": "butt"},
  "encoding": {
   "x": {"field": "t", "type": "quantitative", "scale": {"domain": [0, 31], "nice": false}, "axis": {"values": [0,5,10,15,20,25,30], "title": "Time [s]"}},
   "y": {"field": "e", "type": "quantitative", "scale": {"domain": [0, 2250], "nice": false}, "axis": {"values": [0,500,1000,1500,2000], "title": "Energy [kJ]"}},
   "color": {"field": "s", "type": "nominal", "title": "ENERGY", "scale": {"domain": ["Input","Modal Damping","Link Hysteretic"], "range": ["#0072BD","#D95319","#0A813B"]}, "legend": {"orient": "none", "legendX": 559, "legendY": 17}},
   "strokeDash": {"field": "s", "type": "nominal", "title": "ENERGY", "scale": {"domain": ["Input","Modal Damping","Link Hysteretic"], "range": [[1,0],[18,6,6,6],[6,4]]}, "legend": {"orient": "none", "legendX": 559, "legendY": 17}}
  }
 }
]
}
